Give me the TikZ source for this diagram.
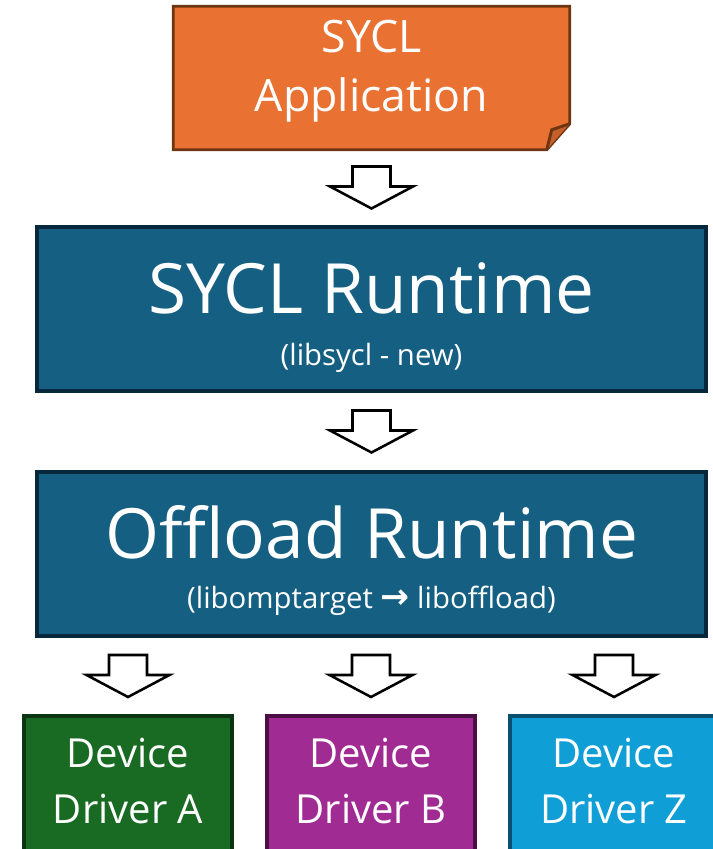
\documentclass[tikz,border=0pt]{standalone}
\usepackage{fontspec}
\setmainfont{Open Sans}
\newfontfamily\symfont{DejaVu Sans}
\usetikzlibrary{calc}

\definecolor{appfill}{HTML}{E97132}
\definecolor{appline}{HTML}{6E3513}
\definecolor{rtfill}{HTML}{156082}
\definecolor{rtline}{HTML}{07283A}
\definecolor{gfill}{HTML}{196B24}
\definecolor{gline}{HTML}{0B3512}
\definecolor{pfill}{HTML}{A02B93}
\definecolor{pline}{HTML}{4B0F45}
\definecolor{bfill}{HTML}{0F9ED5}
\definecolor{bline}{HTML}{0B4F6E}

\tikzset{
  box/.style={rectangle, inner sep=0pt, line width=2.6pt},
  rtbox/.style={box, fill=rtfill, draw=rtline, minimum width=501.75pt, minimum height=123pt},
  devbox/.style={box, minimum width=156pt, minimum height=123pt},
  txt/.style={text=white, inner sep=0pt, anchor=base},
  apptxt/.style={txt, font=\fontsize{33.5}{38}\selectfont},
  titletxt/.style={txt, font=\fontsize{52}{58}\selectfont},
  subtxt/.style={txt, font=\fontsize{22}{26}\selectfont},
  devtxt/.style={txt, font=\fontsize{30}{34}\selectfont},
  arrowline/.style={draw=black, fill=white, line width=1.9pt, line join=miter},
  downarrow/.pic={
    \path[arrowline] (-19,-21) -- (19,-21) -- (19,-1) -- (41.5,-1) -- (0,21)
      -- (-41.5,-1) -- (-19,-1) -- cycle;
  }
}

\begin{document}
\begin{tikzpicture}[x=0.75pt,y=-0.75pt]
\useasboundingbox (0,0) rectangle (713,849);
\begin{scope}
\clip (0,0) rectangle (713,849);

% application sheet with a folded corner
\node[box, minimum width=294.75pt, minimum height=105pt] (app) at (371.5,78) {};
\path[fill=appfill, draw=appline, line width=2.2pt, line join=miter]
  (app.north west) -- (app.north east) -- ($(app.south east)+(0,-26)$)
  -- ($(app.south east)+(-23,0)$) -- (app.south west) -- cycle;
\path[fill=appfill!85!black, draw=appline, line width=2.2pt, line join=miter]
  ($(app.south east)+(-23,0)$) -- ($(app.south east)+(-18,-20)$)
  -- ($(app.south east)+(0,-26)$);
\node[apptxt] (appa) at (371.5,53) {SYCL};
\node[apptxt] (appb) at (371.5,112) {Application};

% runtime layers
\node[rtbox] (sycl) at (371.5,309) {};
\node[titletxt] (sycla) at (371.5,313) {SYCL Runtime};
\node[subtxt] (syclb) at (371.5,365) {(libsycl - new)};

\node[rtbox] (off) at (371.5,554) {};
\node[titletxt] (offa) at (371.5,558) {Offload Runtime};
\node[subtxt] (offb) at (371.5,608)
  {(libomptarget {\symfont\bfseries\fontsize{26}{28}\selectfont →} liboffload)};

% device drivers
\node[devbox, fill=gfill, draw=gline] (da) at (128,798) {};
\node[devbox, fill=pfill, draw=pline] (db) at (371,798) {};
\node[devbox, fill=bfill, draw=bline] (dz) at (614,798) {};
\foreach \d/\x/\l in {da/128/A, db/371/B, dz/614/Z}{
  \node[devtxt] (\d1) at (\x,767) {Device};
  \node[devtxt] (\d2) at (\x,823) {Driver \l};
}

% block arrows between the layers
\path (app.south) -- (sycl.north) coordinate[pos=0.5] (m1);
\path (sycl.south) -- (off.north) coordinate[pos=0.5] (m2);
\pic at (m1) {downarrow};
\pic at (m2) {downarrow};
\foreach \d in {da, db, dz}{
  \path (\d.north |- off.south) -- (\d.north) coordinate[pos=0.5] (m\d);
  \pic at (m\d) {downarrow};
}
\end{scope}
\end{tikzpicture}
\end{document}
